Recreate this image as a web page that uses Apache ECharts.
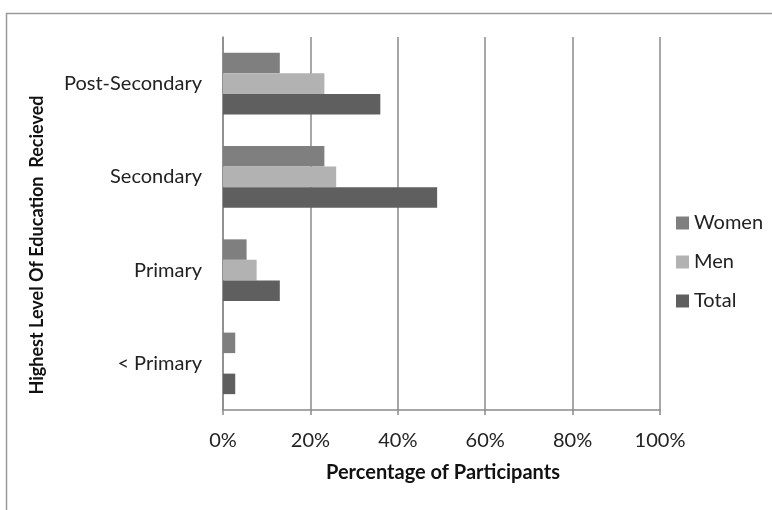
<!DOCTYPE html>
<html>
<head>
<meta charset="utf-8">
<script src="https://cdn.jsdelivr.net/npm/echarts@6/dist/echarts.min.js"></script>
<style>
  html, body { margin: 0; padding: 0; background: #fff; }
  #chart { width: 772px; height: 510px; }
</style>
</head>
<body>
<div id="chart"></div>
<script>
// Education levels, listed bottom to top on the category axis
const levels = ['< Primary', 'Primary', 'Secondary', 'Post-Secondary'];

// Share of participants (%) per education level
const women = [2.8, 5.4, 23.2, 13];
const men   = [0, 7.7, 25.9, 23.2];
const total = [2.8, 13, 49, 36];

const xTicks = [0, 20, 40, 60, 80, 100];

const seriesNames = ['Women', 'Men', 'Total'];
const colors = { Women: '#7f7f7f', Men: '#b2b2b2', Total: '#5f5f5f' };

const font = 'Lato, "Open Sans", sans-serif';

const chart = echarts.init(document.getElementById('chart'), null, { renderer: 'canvas' });

const seriesData = { Women: women, Men: men, Total: total };

chart.setOption({
  animation: false,
  backgroundColor: '#fff',
  grid: { left: 223, right: 112, top: 37, bottom: 100 },
  legend: {
    data: seriesNames,
    orient: 'vertical',
    left: 671,
    top: 208,
    itemWidth: 13,
    itemHeight: 13,
    itemGap: 19,
    icon: 'rect',
    textStyle: { fontFamily: font, fontSize: 20, color: '#222' }
  },
  xAxis: {
    type: 'value',
    min: xTicks[0],
    max: xTicks[xTicks.length - 1],
    interval: 20,
    axisLine: { show: true, lineStyle: { color: '#8a8a8a', width: 1.5 } },
    axisTick: { show: true, length: 5, lineStyle: { color: '#8a8a8a', width: 1.5 } },
    splitLine: { show: true, lineStyle: { color: '#8a8a8a', width: 1.5 } },
    axisLabel: {
      formatter: v => v + '%',
      fontFamily: font, fontSize: 20, color: '#222', margin: 21
    }
  },
  yAxis: {
    type: 'category',
    data: levels,
    axisLine: { show: true, lineStyle: { color: '#8a8a8a', width: 1.5 } },
    axisTick: { show: false },
    axisLabel: { fontFamily: font, fontSize: 20, color: '#222', margin: 21 }
  },
  series: seriesNames.map(name => ({
    type: 'bar',
    name: name,
    data: seriesData[name],
    barGap: '0%',
    barCategoryGap: '34%',
    itemStyle: { color: colors[name] }
  })),
  graphic: [
    {
      type: 'rect',
      silent: true,
      shape: { x: 6.5, y: 13.5, width: 800, height: 600 },
      style: { fill: 'none', stroke: '#999', lineWidth: 1.5 }
    },
    {
      type: 'text',
      x: 443, y: 473,
      style: {
        text: 'Percentage of Participants',
        x: 0, y: 0,
        align: 'center', verticalAlign: 'middle',
        font: 'bold 20px ' + font, fill: '#111'
      }
    },
    {
      type: 'text',
      x: 37, y: 245,
      rotation: Math.PI / 2,
      style: {
        text: 'Highest Level Of Education  Recieved',
        x: 0, y: 0,
        align: 'center', verticalAlign: 'middle',
        font: 'bold 18px ' + font, fill: '#111'
      }
    }
  ]
});
</script>
</body>
</html>
